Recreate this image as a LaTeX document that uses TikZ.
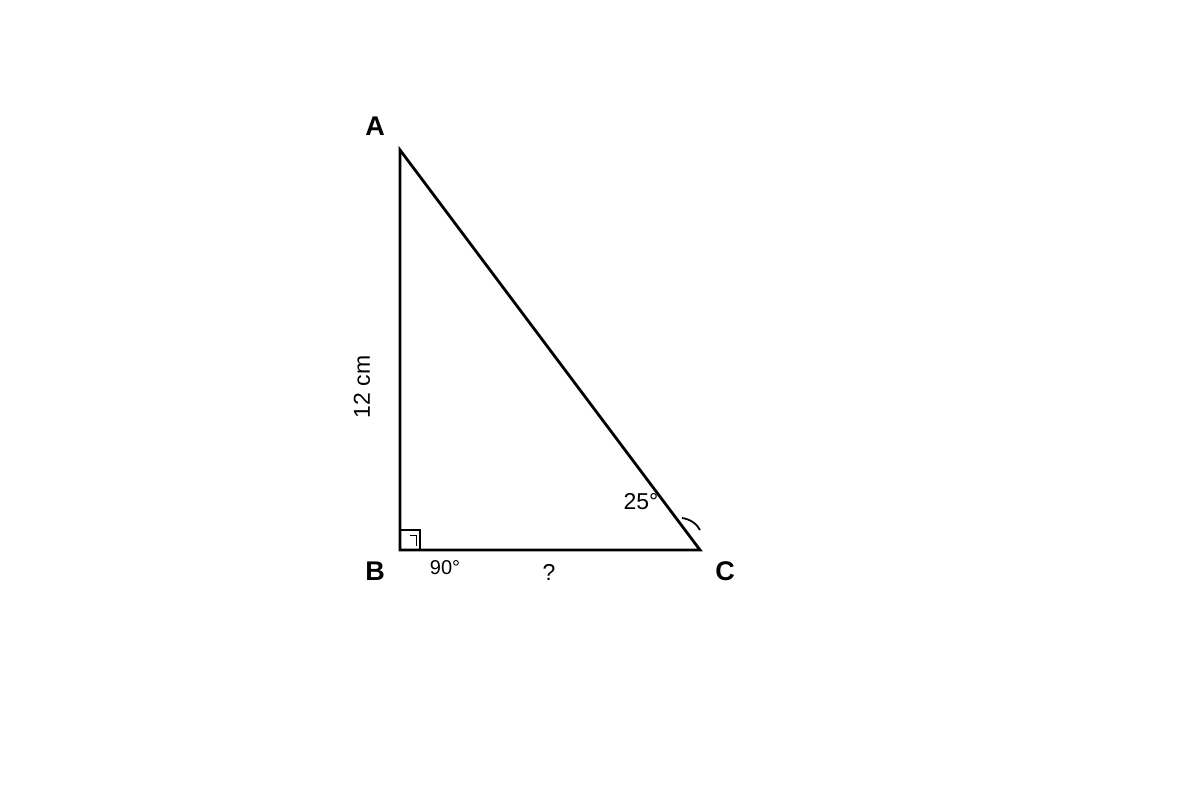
\documentclass[tikz,border=0pt]{standalone}
\usepackage{fontspec}
\setmainfont{Liberation Sans}
\begin{document}
\begin{tikzpicture}[x=1pt,y=-1pt,
  vlabel/.style={font=\fontsize{27}{30}\selectfont\bfseries},
  mlabel/.style={font=\fontsize{23}{26}\selectfont},
  slabel/.style={font=\fontsize{20}{23}\selectfont},
  side/.style={line width=2.8pt},
]
\useasboundingbox[fill=white] (0,0) rectangle (1200,800);
\coordinate (A) at (400,150);
\coordinate (B) at (400,550);
\coordinate (C) at (700,550);
\draw[side, line join=miter] (A) -- (B) -- (C) -- cycle;
\draw[line width=1.6pt] (400,530) rectangle (420,550);
\draw[line width=1pt] (409.5,535) -- (416,535) -- (416,546);
\draw[line width=1.8pt] (682,518) .. controls (690,519) and (697,524) .. (700,530);
\node[vlabel] (la) at (375,126) {A};
\node[vlabel] (lb) at (375,571) {B};
\node[vlabel] (lc) at (725,571) {C};
\node[mlabel, rotate=90] (lab) at (362,387) {12 cm};
\node[mlabel] (lang) at (641,502) {25°};
\node[slabel] (lrt) at (445,568) {90°};
\node[mlabel] (lq) at (549,572) {?};
\end{tikzpicture}
\end{document}
